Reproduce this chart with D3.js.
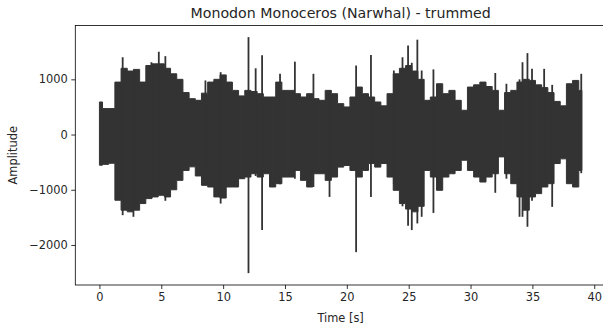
<!DOCTYPE html>
<html>
<head>
<meta charset="utf-8">
<script src="https://cdn.jsdelivr.net/npm/d3@7"></script>
<style>
  body { margin: 0; background: #fff; }
  svg { display: block; }
  text { font-family: "DejaVu Sans", sans-serif; fill: #262626; }
</style>
</head>
<body>
<svg id="chart" width="603" height="329"></svg>
<script>
"use strict";

// envelope of the waveform, one value every half second from 0 to 39 s
var step = 0.5;
var upper = [590, 470, 470, 950, 1200, 1150, 1180, 950, 1250, 1280,
  1280, 1200, 1100, 1000, 760, 650, 620, 750, 950, 1000,
  1080, 950, 800, 700, 800, 780, 740, 680, 680, 950,
  800, 800, 740, 680, 740, 650, 620, 800, 740, 560,
  500, 680, 860, 740, 680, 590, 520, 740, 1100, 1200,
  1250, 1150, 1000, 620, 680, 920, 740, 800, 620, 440,
  860, 900, 950, 870, 800, 440, 760, 800, 950, 1000,
  980, 900, 850, 760, 600, 520, 920, 980, 800];
var lower = [-555, -540, -520, -1190, -1370, -1400, -1370, -1250, -1160, -1130,
  -1100, -1130, -1000, -830, -650, -585, -750, -920, -950, -1130,
  -1150, -950, -950, -800, -770, -710, -770, -710, -950, -890,
  -770, -770, -650, -830, -950, -710, -710, -830, -770, -590,
  -560, -650, -770, -650, -525, -590, -525, -770, -1010, -1250,
  -1350, -1400, -1300, -650, -770, -1010, -770, -710, -650, -465,
  -650, -770, -860, -770, -710, -405, -710, -890, -1130, -1370,
  -1130, -1070, -950, -890, -525, -440, -890, -950, -650];

// isolated clicks standing out of the envelope: [time, max, min]
var spikes = [
  [1.88, 1400, -1460], [2.75, 1150, -1490], [4.2, 1310, -1150],
  [4.8, 1500, -1100], [5.33, 1420, -1200], [8.57, 980, -900],
  [9.8, 1130, -1250], [12.05, 1765, -2510], [12.63, 1200, -750],
  [13.15, 1435, -1730], [14.6, 1100, -900], [15.8, 1320, -800],
  [17.3, 1100, -950], [18.6, 800, -1130], [20.75, 1250, -2130],
  [21.95, 1440, -1130], [23.8, 1160, -900], [24.5, 1400, -1300],
  [24.95, 1615, -1650], [25.25, 1300, -1730], [25.7, 1718, -1610],
  [26.05, 1160, -1490], [27.0, 1180, -1420], [32.0, 1115, -1055],
  [32.9, 920, -800], [33.96, 1000, -1490], [34.2, 1310, -1490],
  [34.6, 1475, -1670], [34.97, 1190, -1200], [35.95, 1190, -950],
  [36.6, 900, -1310], [38.95, 1100, -700]
];

var xTicks = [0, 5, 10, 15, 20, 25, 30, 35, 40];
var yTicks = [-2000, -1000, 0, 1000];

var waveColor = '#333333';

var svg = d3.select('#chart');
var mLeft = 75.3, mRight = 606, mTop = 25.5, mBottom = 285;

var x = d3.scaleLinear().domain([-1.95, 40.95]).range([mLeft, mRight]);
var y = d3.scaleLinear().domain([-2725, 1975]).range([mBottom, mTop]);

var env = upper.map(function(u, i) {
  return { t: i * step, hi: u, lo: lower[i] };
});

var area = d3.area()
  .curve(d3.curveStep)
  .x(function(d) { return x(d.t); })
  .y0(function(d) { return y(d.lo); })
  .y1(function(d) { return y(d.hi); });

svg.append('path')
  .datum(env)
  .attr('d', area)
  .attr('fill', waveColor)
  .attr('stroke', waveColor)
  .attr('stroke-width', 1);

svg.append('g').selectAll('line')
  .data(spikes)
  .enter().append('line')
  .attr('x1', function(d) { return x(d[0]); })
  .attr('x2', function(d) { return x(d[0]); })
  .attr('y1', function(d) { return y(d[1]); })
  .attr('y2', function(d) { return y(d[2]); })
  .attr('stroke', waveColor)
  .attr('stroke-width', 1.8);

// axes
var xAxis = svg.append('g')
  .attr('transform', 'translate(0,' + mBottom + ')')
  .call(d3.axisBottom(x).tickValues(xTicks).tickSize(4).tickPadding(3.5).tickFormat(d3.format('d')));
var yAxis = svg.append('g')
  .attr('transform', 'translate(' + mLeft + ',0)')
  .call(d3.axisLeft(y).tickValues(yTicks).tickSize(4).tickPadding(3.5).tickFormat(d3.format('d')));

[xAxis, yAxis].forEach(function(a) {
  a.select('.domain').remove();
  a.selectAll('.tick line').attr('stroke', '#000').attr('stroke-width', 0.8);
  a.selectAll('.tick text')
    .attr('font-family', '"DejaVu Sans", sans-serif')
    .attr('font-size', 11.4)
    .attr('fill', '#262626');
});

// frame
svg.append('rect')
  .attr('x', mLeft).attr('y', mTop)
  .attr('width', mRight - mLeft).attr('height', mBottom - mTop)
  .attr('fill', 'none')
  .attr('stroke', '#000')
  .attr('stroke-width', 0.8);

svg.append('text')
  .attr('x', (mLeft + mRight) / 2)
  .attr('y', 18)
  .attr('text-anchor', 'middle')
  .attr('font-size', 14.2)
  .text('Monodon Monoceros (Narwhal) - trummed');

svg.append('text')
  .attr('x', (mLeft + mRight) / 2)
  .attr('y', 322)
  .attr('text-anchor', 'middle')
  .attr('font-size', 11.4)
  .text('Time [s]');

svg.append('text')
  .attr('transform', 'translate(17,' + ((mTop + mBottom) / 2) + ') rotate(-90)')
  .attr('text-anchor', 'middle')
  .attr('font-size', 11.4)
  .text('Amplitude');
</script>
</body>
</html>
